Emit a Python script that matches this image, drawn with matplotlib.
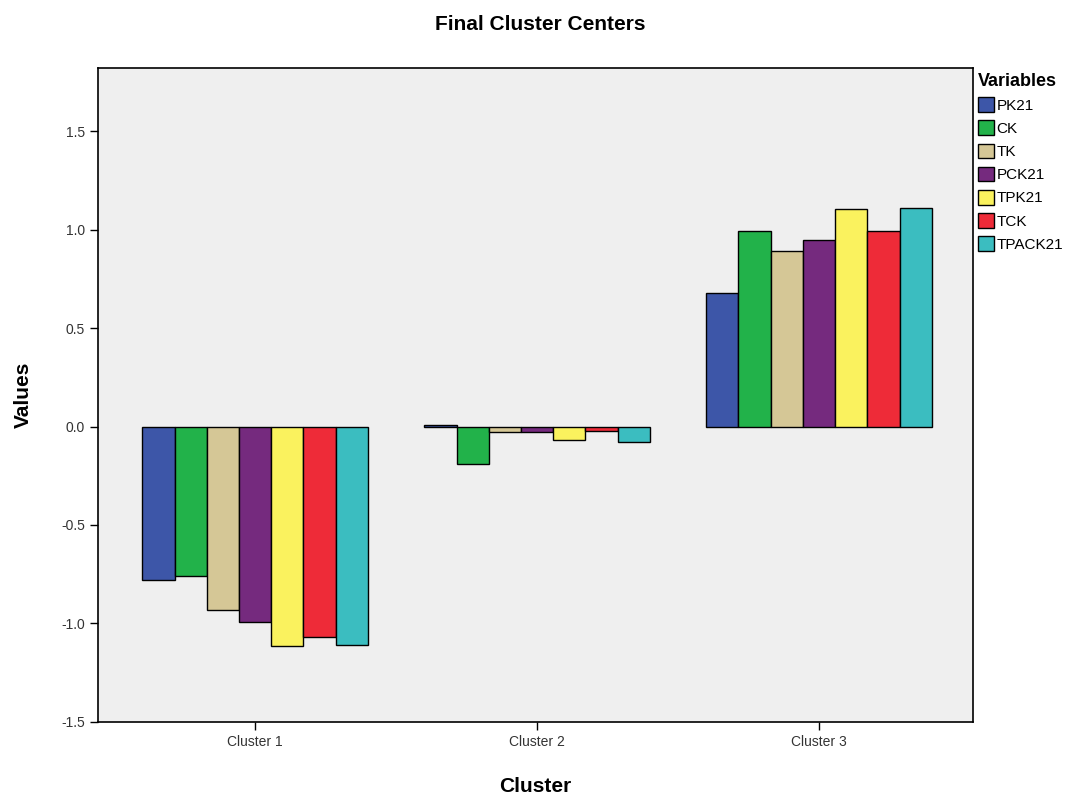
import matplotlib
matplotlib.use("Agg")
import matplotlib.pyplot as plt
import numpy as np

clusters = ["Cluster 1", "Cluster 2", "Cluster 3"]
variables = ["PK21", "CK", "TK", "PCK21", "TPK21", "TCK", "TPACK21"]
colors = ["#3D56A8", "#22B24A", "#D5C796", "#752A7E", "#FAF25E", "#EE2B38", "#3BBDC0"]

# cluster centre values per variable (Cluster 1, 2, 3)
pk21 = [-0.78, 0.01, 0.68]
ck = [-0.76, -0.19, 0.99]
tk = [-0.93, -0.03, 0.89]
pck21 = [-0.995, -0.03, 0.945]
tpk21 = [-1.115, -0.07, 1.105]
tck = [-1.07, -0.025, 0.995]
tpack21 = [-1.11, -0.08, 1.11]
series = [pk21, ck, tk, pck21, tpk21, tck, tpack21]

plt.rcParams["font.family"] = ["Liberation Sans", "DejaVu Sans"]

fig = plt.figure(figsize=(10.81, 8.02), dpi=100, facecolor="white")
ax = fig.add_axes([0.0907, 0.0998, 0.8094, 0.8154])
ax.set_facecolor("#EFEFEF")

x = np.arange(len(clusters))
w = 0.8 / len(variables)
for i, (name, vals, c) in enumerate(zip(variables, series, colors)):
    ax.bar(x - 0.4 + w * (i + 0.5), vals, width=w, color=c, edgecolor="black",
           linewidth=1.0, label=name, zorder=2)

ax.set_xlim(-0.557, 2.546)
ax.set_ylim(-1.5, 1.82)
ax.set_yticks([-1.5, -1.0, -0.5, 0.0, 0.5, 1.0, 1.5])
ax.set_yticklabels(["-1.5", "-1.0", "-0.5", "0.0", "0.5", "1.0", "1.5"])
ax.set_xticks(x)
ax.set_xticklabels(clusters)
ax.tick_params(axis="both", labelsize=10, color="black", length=6, width=1,
               labelcolor="#333333")
for s in ax.spines.values():
    s.set_linewidth(1.2)
    s.set_color("black")

ax.set_xlabel("Cluster", fontsize=15, fontweight="bold", labelpad=20)
ax.set_ylabel("Values", fontsize=15, fontweight="bold", labelpad=20)
fig.text(0.5, 0.97, "Final Cluster Centers", ha="center", va="center",
         fontsize=15, fontweight="bold")

leg = ax.legend(title="Variables", loc="upper left", bbox_to_anchor=(1.0, 1.0),
                frameon=False, fontsize=11, handlelength=1.1, handleheight=1.1,
                handletextpad=0.15, labelspacing=0.5, borderaxespad=0.2,
                borderpad=0.1)
leg.get_title().set_fontweight("bold")
leg.get_title().set_fontsize(13)
leg._legend_box.align = "left"

fig.savefig("out.png", dpi=100, facecolor="white")
